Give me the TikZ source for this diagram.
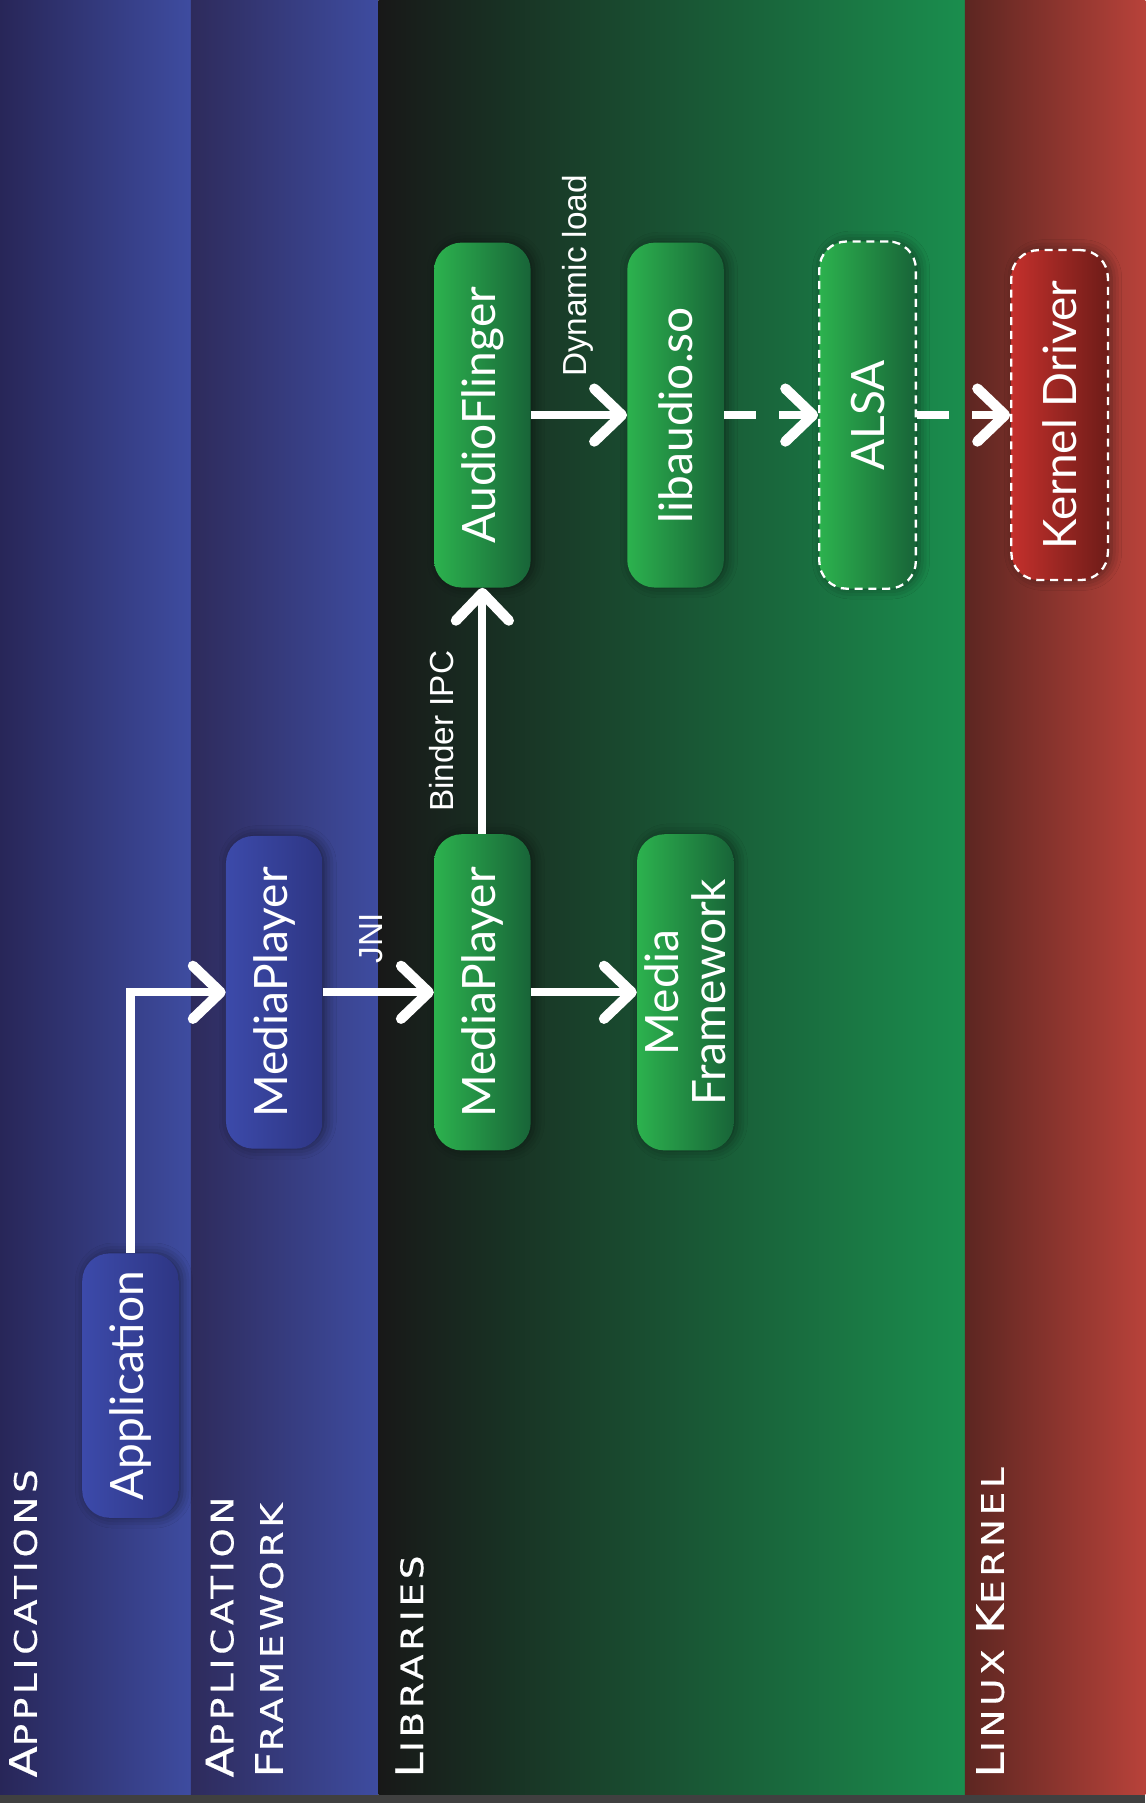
\documentclass[tikz,border=0pt]{standalone}
\usepackage{fontspec}
\usepackage{graphicx}
\setmainfont{Lato}
\newfontfamily\lblfont{Liberation Sans}
\newfontfamily\layerfont[LetterSpace=10, FakeBold=0.4]{DejaVu Sans}
\usetikzlibrary{arrows.meta, shadows.blur}
\definecolor{appdark}{RGB}{40,38,88}
\definecolor{applight}{RGB}{62,76,160}
\definecolor{fwdark}{RGB}{46,43,92}
\definecolor{libdark}{RGB}{24,24,24}
\definecolor{libmid}{RGB}{40,80,52}
\definecolor{liblight}{RGB}{26,142,78}
\definecolor{kerndark}{RGB}{92,38,33}
\definecolor{kernlight}{RGB}{184,66,58}
\definecolor{boxgreen}{RGB}{44,178,78}
\definecolor{boxgreendark}{RGB}{24,100,56}
\definecolor{boxblue}{RGB}{60,74,170}
\definecolor{boxbluedark}{RGB}{46,54,132}
\definecolor{boxred}{RGB}{196,48,44}
\definecolor{boxreddark}{RGB}{110,28,24}
\newcommand{\kap}[1]{{\fontsize{33}{33}\selectfont #1}}
\newcommand{\ebene}[1]{\scalebox{1.2}[1]{#1}}

\tikzset{
  box/.style={rounded corners=24pt, minimum width=84pt, inner sep=0pt, text=white,
    font=\fontsize{40}{38}\selectfont,
    blur shadow={shadow xshift=3pt, shadow yshift=0pt, shadow blur radius=9pt, shadow opacity=45}},
  bluebox/.style={box, left color=boxblue, right color=boxbluedark},
  greenbox/.style={box, left color=boxgreen, right color=boxgreendark},
  redbox/.style={box, left color=boxred, right color=boxreddark},
  dashbox/.style={draw=white, line width=2pt, dash pattern=on 7pt off 5pt},
  pfeil/.style={white, line width=7pt,
    -{Straight Barb[length=24pt, width=46pt, line width=9pt, round]}},
  dpfeil/.style={pfeil, dash pattern=on 28pt off 20pt},
  lbl/.style={rotate=90, anchor=base, inner sep=0pt, text=white,
    font=\lblfont\fontsize{29}{32}\selectfont},
  layer/.style={rotate=90, anchor=base west, inner sep=0pt, text=white,
    font=\layerfont\fontsize{27}{27}\selectfont}
}

\begin{document}
\begin{tikzpicture}[x=1pt, y=1pt]
  \useasboundingbox (0,0) rectangle (996,1568);
  % Schichten zeichnen
  \shade[left color=appdark, right color=applight] (0,7) rectangle (166,1568);
  \shade[left color=fwdark, right color=applight] (166,7) rectangle (329,1568);
  \shade[left color=libdark, middle color=libmid, right color=liblight] (329,7) rectangle (839,1568);
  \shade[left color=kerndark, right color=kernlight] (839,7) rectangle (996,1568);
  \fill[black!75] (0,0) rectangle (996,7);
  % Schichten beschriften
  \node[layer] (tapps) at (32,22) {\ebene{\kap{A}PPLICATIONS}};
  \node[layer] (tfw1) at (203,22) {\ebene{\kap{A}PPLICATION}};
  \node[layer] (tfw2) at (246,22) {\ebene{\kap{F}RAMEWORK}};
  \node[layer] (tlibs) at (368,22) {\ebene{\kap{L}IBRARIES}};
  \node[layer] (tkern) at (873,22) {\ebene{\kap{L}INUX \kap{K}ERNEL}};
  % Bausteine
  \node[bluebox, minimum height=230pt] (app) at (113.5,363) {\rotatebox{90}{Application}};
  \node[bluebox, minimum height=272pt] (fwmp) at (238.5,705) {\rotatebox{90}{MediaPlayer}};
  \node[greenbox, minimum height=275pt] (libmp) at (419.5,705) {\rotatebox{90}{MediaPlayer}};
  \node[greenbox, minimum height=275pt] (mfw) at (596,705)
    {\rotatebox{90}{\raisebox{0pt}[\height][0pt]{\begin{tabular}[b]{@{}c@{}}Media\\Framework\end{tabular}}}};
  \node[greenbox, minimum height=300pt] (af) at (419.5,1207) {\rotatebox{90}{AudioFlinger}};
  \node[greenbox, minimum height=300pt] (libaudio) at (587.5,1207) {\rotatebox{90}{libaudio.so}};
  \node[greenbox, dashbox, minimum height=302pt] (alsa) at (754.5,1207) {\rotatebox{90}{ALSA}};
  \node[redbox, dashbox, minimum height=287pt] (kdrv) at (921.5,1207) {\rotatebox{90}{Kernel Driver}};
  % Pfeile
  \draw[pfeil] (app.north) |- (fwmp.west);
  \draw[pfeil] (fwmp) -- (libmp);
  \draw[pfeil] (libmp) -- (mfw);
  \draw[pfeil] (libmp) -- (af);
  \draw[pfeil] (af) -- (libaudio);
  \draw[dpfeil] (libaudio) -- (alsa);
  \draw[dpfeil] (alsa) -- (kdrv);
  % Beschriftung
  \node[lbl] (jni) at (333,752) {JNI};
  \node[lbl] (binder) at (394,932) {Binder IPC};
  \node[lbl] (dynload) at (510,1328) {Dynamic load};
\end{tikzpicture}
\end{document}
